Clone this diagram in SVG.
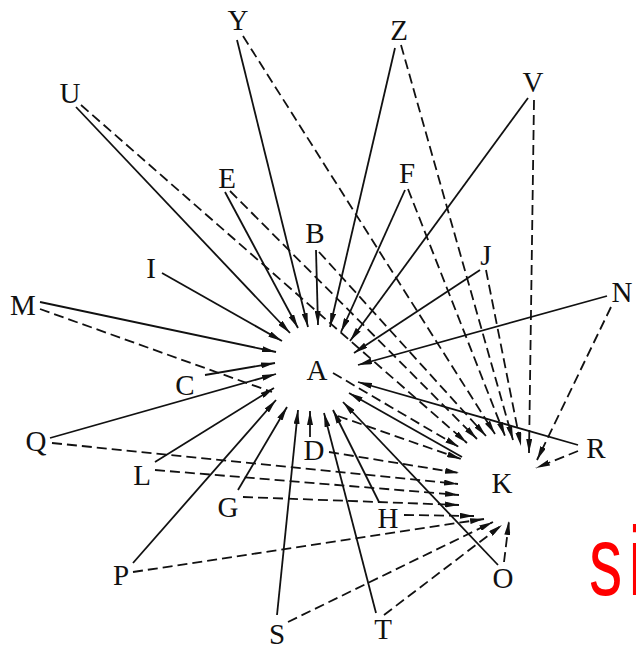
<svg xmlns="http://www.w3.org/2000/svg" width="636" height="651" viewBox="0 0 636 651">
<defs>
<marker id="ah" viewBox="0 0 14 6" refX="14" refY="3" markerWidth="14" markerHeight="6" markerUnits="userSpaceOnUse" orient="auto">
<path d="M0,0 L14,3 L0,6 z" fill="#111111"/>
</marker>
<style>
.s{stroke:#111111;stroke-width:1.8;fill:none;marker-end:url(#ah)}
.d{stroke:#111111;stroke-width:1.8;fill:none;stroke-dasharray:10 5;marker-end:url(#ah)}
.dn{stroke:#111111;stroke-width:1.8;fill:none;stroke-dasharray:10 5}
.lb{font-family:"Liberation Serif","Times New Roman",serif;font-size:29px;fill:#111111;text-anchor:middle}
</style>
</defs>
<rect width="636" height="651" fill="#ffffff"/>
<g id="connectors">
<line class="s" x1="237" y1="40" x2="308" y2="327"/>
<line class="s" x1="76" y1="107" x2="290" y2="333"/>
<line class="s" x1="225" y1="192" x2="298" y2="328"/>
<line class="s" x1="395" y1="48" x2="330" y2="327"/>
<line class="s" x1="528" y1="98" x2="350" y2="341"/>
<line class="s" x1="405" y1="190" x2="341" y2="332"/>
<line class="s" x1="316" y1="250" x2="318" y2="325"/>
<line class="s" x1="480" y1="270" x2="354" y2="353"/>
<line class="s" x1="162" y1="273" x2="282" y2="341"/>
<line class="s" x1="607" y1="296" x2="358" y2="365"/>
<line class="s" x1="40" y1="302" x2="276" y2="352"/>
<line class="s" x1="205" y1="375" x2="275" y2="363"/>
<line class="s" x1="50" y1="438" x2="276" y2="374"/>
<line class="s" x1="578" y1="445" x2="358" y2="382"/>
<line class="s" x1="462" y1="457" x2="349" y2="393"/>
<line class="s" x1="155" y1="462" x2="274" y2="388"/>
<line class="s" x1="310" y1="437" x2="310" y2="411"/>
<line class="s" x1="238" y1="490" x2="287" y2="407"/>
<line class="s" x1="379" y1="502" x2="333" y2="410"/>
<line class="s" x1="133" y1="563" x2="276" y2="400"/>
<line class="s" x1="498" y1="565" x2="343" y2="402"/>
<line class="s" x1="277" y1="615" x2="298" y2="410"/>
<line class="s" x1="376" y1="613" x2="324" y2="413"/>

<line class="d" x1="243" y1="36" x2="495" y2="434"/>
<line class="d" x1="81" y1="105" x2="467" y2="443"/>
<line class="d" x1="230" y1="191" x2="477" y2="439"/>
<line class="d" x1="401" y1="45" x2="513" y2="440"/>
<line class="d" x1="534" y1="100" x2="529" y2="453"/>
<line class="d" x1="408" y1="189" x2="505" y2="436"/>
<line class="d" x1="319" y1="252" x2="486" y2="436"/>
<line class="d" x1="486" y1="270" x2="521" y2="446"/>
<line class="d" x1="611" y1="307" x2="537" y2="460"/>
<line class="d" x1="578" y1="451" x2="536" y2="468"/>
<line class="d" x1="333" y1="373" x2="459" y2="447"/>
<line class="dn" x1="40" y1="309" x2="272" y2="392"/>
<line class="d" x1="338" y1="416" x2="461" y2="459"/>
<line class="d" x1="329" y1="452" x2="459" y2="473"/>
<line class="d" x1="52" y1="443" x2="458" y2="484"/>
<line class="d" x1="155" y1="470" x2="459" y2="495"/>
<line class="d" x1="243" y1="497" x2="459" y2="505"/>
<line class="d" x1="404" y1="515" x2="474" y2="516"/>
<line class="d" x1="133" y1="572" x2="484" y2="519"/>
<line class="d" x1="288" y1="622" x2="493" y2="522"/>
<line class="d" x1="384" y1="615" x2="502" y2="525"/>
<line class="d" x1="504" y1="562" x2="509" y2="521"/>
</g>
<g id="node-Y"><text class="lb" x="238" y="30">Y</text></g>
<g id="node-Z"><text class="lb" x="399" y="40">Z</text></g>
<g id="node-V"><text class="lb" x="533" y="92">V</text></g>
<g id="node-U"><text class="lb" x="70" y="103">U</text></g>
<g id="node-E"><text class="lb" x="227" y="188">E</text></g>
<g id="node-F"><text class="lb" x="407" y="183">F</text></g>
<g id="node-B"><text class="lb" x="315" y="243">B</text></g>
<g id="node-J"><text class="lb" x="486" y="265">J</text></g>
<g id="node-I"><text class="lb" x="151" y="278">I</text></g>
<g id="node-N"><text class="lb" x="622" y="302">N</text></g>
<g id="node-M"><text class="lb" x="23" y="315">M</text></g>
<g id="node-A"><text class="lb" x="317" y="380">A</text></g>
<g id="node-C"><text class="lb" x="185" y="395">C</text></g>
<g id="node-Q"><text class="lb" x="36" y="451">Q</text></g>
<g id="node-R"><text class="lb" x="596" y="458">R</text></g>
<g id="node-D"><text class="lb" x="314" y="460">D</text></g>
<g id="node-L"><text class="lb" x="142" y="485">L</text></g>
<g id="node-K"><text class="lb" x="502" y="493">K</text></g>
<g id="node-G"><text class="lb" x="228" y="517">G</text></g>
<g id="node-H"><text class="lb" x="388" y="528">H</text></g>
<g id="node-P"><text class="lb" x="121" y="585">P</text></g>
<g id="node-O"><text class="lb" x="503" y="588">O</text></g>
<g id="node-S"><text class="lb" x="277" y="644">S</text></g>
<g id="node-T"><text class="lb" x="383" y="639">T</text></g>
<text transform="translate(589,595) scale(0.68,1)" font-family="'Liberation Sans','Open Sans',sans-serif" font-size="98" fill="#ff0000">s<tspan dx="9">i</tspan></text>
</svg>
